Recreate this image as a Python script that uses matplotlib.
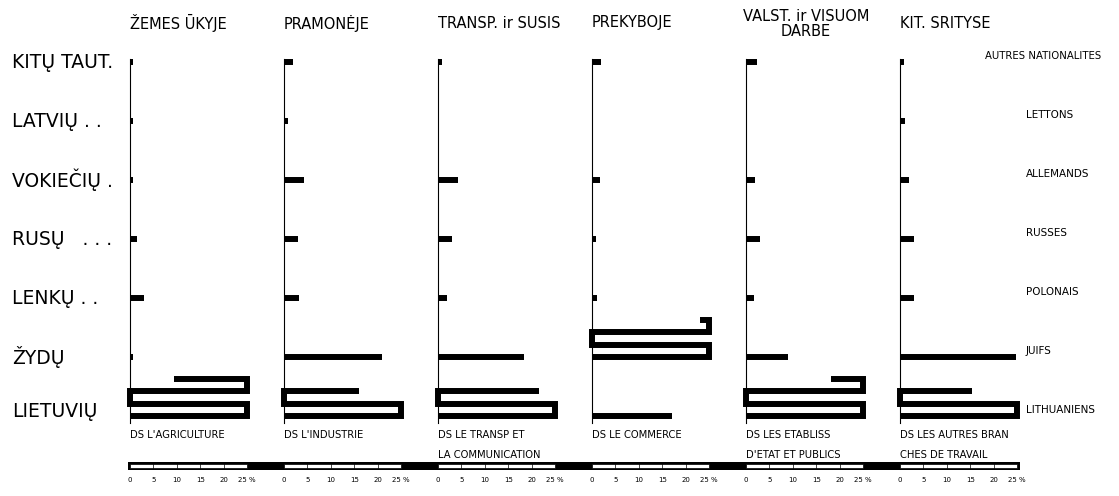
import matplotlib
matplotlib.use("Agg")
import matplotlib.pyplot as plt
import matplotlib.transforms as mtransforms
from matplotlib.patches import Rectangle

# nationalities, top to bottom as in the picture
nat_lt = ["KITŲ TAUT.", "LATVIŲ . .", "VOKIEČIŲ .", "RUSŲ   . . .", "LENKŲ . .", "ŽYDŲ", "LIETUVIŲ"]
nat_fr = ["AUTRES NATIONALITES", "LETTONS", "ALLEMANDS", "RUSSES", "POLONAIS", "JUIFS", "LITHUANIENS"]

sectors_lt = ["ŽEMES ŪKYJE", "PRAMONĖJE", "TRANSP. ir SUSIS", "PREKYBOJE", "VALST. ir VISUOM\nDARBE", "KIT. SRITYSE"]
sectors_fr = ["DS L'AGRICULTURE", "DS L'INDUSTRIE", "DS LE TRANSP ET\nLA COMMUNICATION",
              "DS LE COMMERCE", "DS LES ETABLISS\nD'ETAT ET PUBLICS", "DS LES AUTRES BRAN\nCHES DE TRAVAIL"]

# percent, same order as nat_lt
agri = [0.6, 0.6, 0.7, 1.5, 3.0, 0.6, 90.5]
industry = [2.0, 0.8, 4.2, 3.0, 3.3, 21.0, 66.0]
transport = [0.8, 0.3, 4.2, 3.0, 2.0, 18.3, 71.5]
commerce = [2.0, 0.3, 1.8, 0.8, 1.0, 77.0, 17.2]
public = [2.3, 0.3, 2.0, 3.0, 1.7, 9.0, 81.8]
other = [0.8, 1.0, 2.0, 3.0, 3.0, 24.8, 65.3]
all_vals = [agri, industry, transport, commerce, public, other]

scale_ticks = [0, 5, 10, 15, 20, 25]
FULL = 25.0
STEP = 0.21   # row units between the folds of a long bar


def meander(v, y0):
    # a bar longer than 25 % folds back and forth upward
    xs, ys = [0.0], [y0]
    n = 0
    while v > FULL:
        y = y0 + n * STEP
        xend = FULL if n % 2 == 0 else 0.0
        xs += [xend, xend]
        ys += [y, y + STEP]
        v -= FULL
        n += 1
    y = y0 + n * STEP
    xs.append(v if n % 2 == 0 else FULL - v)
    ys.append(y)
    return xs, ys


W, H = 1119, 496
fig = plt.figure(figsize=(W / 100, H / 100), dpi=100)
fig.patch.set_facecolor("white")

nrow = len(nat_lt)
panel_px = 117
first_px, gap_px = 130, 154
ax_bottom = (H - 424.9) / H
ax_height = 368.8 / H

axes = []
for i, vals in enumerate(all_vals):
    left = first_px + i * gap_px
    ax = fig.add_axes([left / W, ax_bottom, panel_px / W, ax_height])
    ax.set_xlim(0, FULL)
    ax.set_ylim(-0.15, 6.1)
    ax.axis("off")
    axes.append(ax)

    ax.plot([0, 0], [-0.12, 6.05], color="black", lw=0.8, clip_on=False)
    for j, v in enumerate(vals):
        row = nrow - 1 - j
        xs, ys = meander(v, row)
        ax.plot(xs, ys, color="black", lw=4.3, solid_capstyle="butt",
                solid_joinstyle="miter", clip_on=False)

    # scale bar under each panel
    ext = (gap_px - panel_px) / panel_px * FULL if i < len(all_vals) - 1 else 0.6
    ax.add_patch(Rectangle((-0.4, -0.91), FULL + 0.4 + ext, 0.13, facecolor="black",
                           edgecolor="none", clip_on=False))
    ax.add_patch(Rectangle((0, -0.88), FULL, 0.075, facecolor="white",
                           edgecolor="black", lw=0.5, clip_on=False))
    for t in scale_ticks[1:-1]:
        ax.plot([t, t], [-0.88, -0.805], color="black", lw=0.5, clip_on=False)
    for t in scale_ticks:
        lab = f"{t} %" if t == scale_ticks[-1] else str(t)
        ax.text(t, -1.08, lab, fontsize=5, ha="center", va="center", clip_on=False)

    # headers
    if "\n" in sectors_lt[i]:
        fig.text((left + 60) / W, 1 - 9 / H, sectors_lt[i], fontsize=10.5,
                 ha="center", va="top", linespacing=1.0)
    else:
        fig.text(left / W, 1 - 23 / H, sectors_lt[i], fontsize=10.5,
                 ha="left", va="center")
    fig.text(left / W, 1 - 430 / H, sectors_fr[i], fontsize=7.2, ha="left", va="top",
             linespacing=2.3)

tr = mtransforms.blended_transform_factory(fig.transFigure, axes[0].transData)
for j, name in enumerate(nat_lt):
    row = nrow - 1 - j
    fig.text(12 / W, row + (0.07 if j == nrow - 1 else 0), name, fontsize=13.5,
             ha="left", va="center", transform=tr)
    xfr = 985 if j == 0 else 1026
    fig.text(xfr / W, row + 0.1, nat_fr[j], fontsize=7.5 if j else 7.3,
             ha="left", va="center", transform=tr)

fig.savefig("out.png", dpi=100, facecolor="white")
